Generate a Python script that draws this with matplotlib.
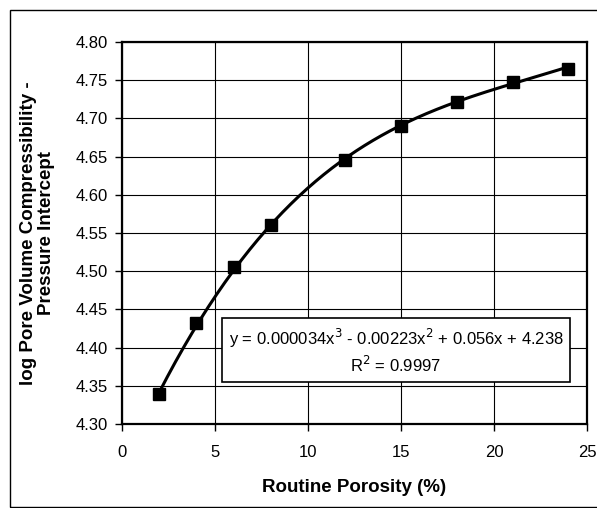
import numpy as np
import matplotlib.pyplot as plt
from matplotlib.patches import Rectangle

plt.rcParams['font.family'] = ['Liberation Sans', 'DejaVu Sans']

# measured data
porosity = [2, 4, 6, 8, 12, 15, 18, 21, 24]
log_intercept = [4.339, 4.432, 4.505, 4.560, 4.645, 4.690, 4.722, 4.747, 4.765]

# cubic trendline as printed on the chart
coefs = [0.000034, -0.00223, 0.056, 4.238]
eq_text = "y = 0.000034x$^3$ - 0.00223x$^2$ + 0.056x + 4.238\nR$^2$ = 0.9997"

xticks = [0, 5, 10, 15, 20, 25]
yticks = [4.30, 4.35, 4.40, 4.45, 4.50, 4.55, 4.60, 4.65, 4.70, 4.75, 4.80]

fig = plt.figure(figsize=(5.97, 5.08), dpi=100)
ax = fig.add_axes([122/597, 1 - 424/508, (587-122)/597, (424-42)/508])

# outer chart border
fig.patches.append(Rectangle((10/597, 1/508), 1.0, 497/508, transform=fig.transFigure,
                             fill=False, edgecolor='black', linewidth=1.0))

xs = np.linspace(min(porosity), max(porosity), 200)
ax.plot(xs, np.polyval(coefs, xs), color='black', lw=2.2, zorder=3)
ax.plot(porosity, log_intercept, ls='none', marker='s', ms=8, color='black', zorder=4)

ax.set_xlim(0, 25)
ax.set_ylim(4.30, 4.80)
ax.set_xticks(xticks)
ax.set_yticks(yticks)
ax.set_yticklabels(["%.2f" % v for v in yticks])
ax.grid(True, color='black', lw=0.8)
ax.set_axisbelow(True)
for s in ax.spines.values():
    s.set_linewidth(1.6)
ax.tick_params(direction='out', length=5, width=1, labelsize=12, pad=5)
ax.tick_params(axis='x', pad=10)

ax.set_xlabel("Routine Porosity (%)", fontsize=13.5, fontweight='bold')
ax.xaxis.set_label_coords(0.5, -(479 - 424)/382)
ax.set_ylabel("log Pore Volume Compressibility -\nPressure Intercept", fontsize=13.5,
              fontweight='bold', linespacing=1.05)
ax.yaxis.set_label_coords((55 - 122)/465, 0.5)

ax.text(396/597, 1 - 351/508, eq_text, transform=fig.transFigure, ha='center', va='center',
        fontsize=12, linespacing=1.3,
        bbox=dict(boxstyle='square,pad=0.4', facecolor='white', edgecolor='black', lw=1.2),
        zorder=5)

fig.savefig("out.png", dpi=100)
